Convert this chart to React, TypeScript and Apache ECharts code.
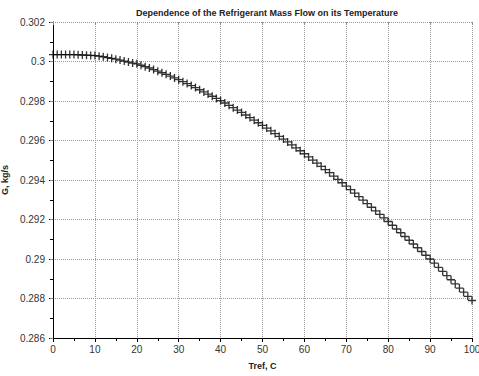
import React, { useEffect, useRef } from "react";
import * as echarts from "echarts";

const titleText = "Dependence of the Refrigerant Mass Flow on its Temperature";
const xName = "Tref, C";
const yName = "G, kg/s";

const temperatures: number[] = Array.from({ length: 101 }, (_, i) => i);

const massFlow: number[] = [
  0.30035, 0.30035, 0.30035, 0.30035, 0.30035, 0.30035, 0.30034, 0.30033, 0.30032, 0.30031,
  0.3003, 0.30027, 0.30024, 0.3002, 0.30016, 0.30012, 0.30007, 0.30002, 0.29997, 0.29992,
  0.29988, 0.29981, 0.29974, 0.29967, 0.29959, 0.29951, 0.29943, 0.29935, 0.29926, 0.29917,
  0.29908, 0.29898, 0.29888, 0.29878, 0.29868, 0.29857, 0.29846, 0.29835, 0.29824, 0.29813,
  0.29802, 0.2979, 0.29778, 0.29766, 0.29754, 0.29742, 0.29729, 0.29716, 0.29703, 0.2969,
  0.29677, 0.29663, 0.29649, 0.29635, 0.29621, 0.29607, 0.29593, 0.29578, 0.29563, 0.29548,
  0.29533, 0.29517, 0.29501, 0.29485, 0.29469, 0.29453, 0.29437, 0.2942, 0.29403, 0.29386,
  0.29369, 0.29351, 0.29334, 0.29316, 0.29298, 0.2928, 0.29262, 0.29244, 0.29226, 0.29208,
  0.2919, 0.29171, 0.29152, 0.29133, 0.29114, 0.29095, 0.29076, 0.29057, 0.29038, 0.29019,
  0.29, 0.28979, 0.28958, 0.28937, 0.28916, 0.28895, 0.28874, 0.28853, 0.28832, 0.28811,
  0.2879,
];

const xMin = 0;
const xMax = 100;
const xStep = 10;
const yMin = 0.286;
const yMax = 0.302;
const yStep = 0.002;

export default function App() {
  const ref = useRef<HTMLDivElement>(null);
  useEffect(() => {
    if (!ref.current) return;
    const chart = echarts.init(ref.current, undefined, { renderer: "svg" });
    const font = "'Liberation Sans', Arial, sans-serif";
    const grid = { left: 53, right: 7, top: 22, bottom: 38, containLabel: false, outerBoundsMode: "none" };
    const gridLine = { show: true, lineStyle: { color: "#9a9a9a", type: "dotted" as const, width: 1 } };
    chart.setOption({
      animation: false,
      backgroundColor: "#ffffff",
      title: {
        text: titleText,
        left: 262,
        textAlign: "center",
        top: 3,
        textStyle: { fontFamily: font, fontSize: 9, fontWeight: "bold", color: "#222" },
      },
      grid,
      xAxis: [
        {
          type: "value",
          min: xMin,
          max: xMax,
          interval: xStep,
          name: xName,
          nameLocation: "middle",
          nameGap: 23,
          nameTextStyle: { fontFamily: font, fontSize: 9, fontWeight: "bold", color: "#222" },
          axisLine: { show: true, lineStyle: { color: "#000", width: 1 } },
          axisTick: { show: true, length: 4, lineStyle: { color: "#000" } },
          minorTick: { show: true, splitNumber: 2, length: 3, lineStyle: { color: "#000" } },
          axisLabel: { fontFamily: font, fontSize: 10, color: "#333", margin: 6 },
          splitLine: gridLine,
        },
        {
          type: "value",
          position: "top",
          min: xMin,
          max: xMax,
          interval: xStep,
          axisLine: { show: false },
          axisTick: { show: true, inside: true, length: 3, lineStyle: { color: "#888" } },
          axisLabel: { show: false },
          splitLine: { show: false },
        },
      ],
      yAxis: [
        {
          type: "value",
          min: yMin,
          max: yMax,
          interval: yStep,
          name: yName,
          nameLocation: "middle",
          nameGap: 43,
          nameTextStyle: { fontFamily: font, fontSize: 9, fontWeight: "bold", color: "#222" },
          axisLine: { show: true, lineStyle: { color: "#000", width: 1 } },
          axisTick: { show: true, length: 4, lineStyle: { color: "#000" } },
          minorTick: { show: true, splitNumber: 2, length: 3, lineStyle: { color: "#000" } },
          axisLabel: {
            fontFamily: font,
            fontSize: 10,
            color: "#333",
            margin: 8,
            formatter: (v: number) => String(+v.toFixed(3)),
          },
          splitLine: gridLine,
        },
        {
          type: "value",
          position: "right",
          min: yMin,
          max: yMax,
          interval: yStep,
          axisLine: { show: false },
          axisTick: { show: true, inside: true, length: 3, lineStyle: { color: "#888" } },
          axisLabel: { show: false },
          splitLine: { show: false },
        },
      ],
      series: [
        {
          type: "scatter",
          data: temperatures.map((t, i) => [t, massFlow[i]]),
          symbol: "path://M4,0 L4,8 M0,4 L8,4",
          symbolSize: 8,
          itemStyle: { color: "none", borderColor: "#000", borderWidth: 1.3 },
          clip: false,
        },
      ],
    });
    return () => chart.dispose();
  }, []);
  return (
    <div
      ref={ref}
      style={{ position: "fixed", left: 0, top: 0, width: 479, height: 376, background: "#fff" }}
    />
  );
}
